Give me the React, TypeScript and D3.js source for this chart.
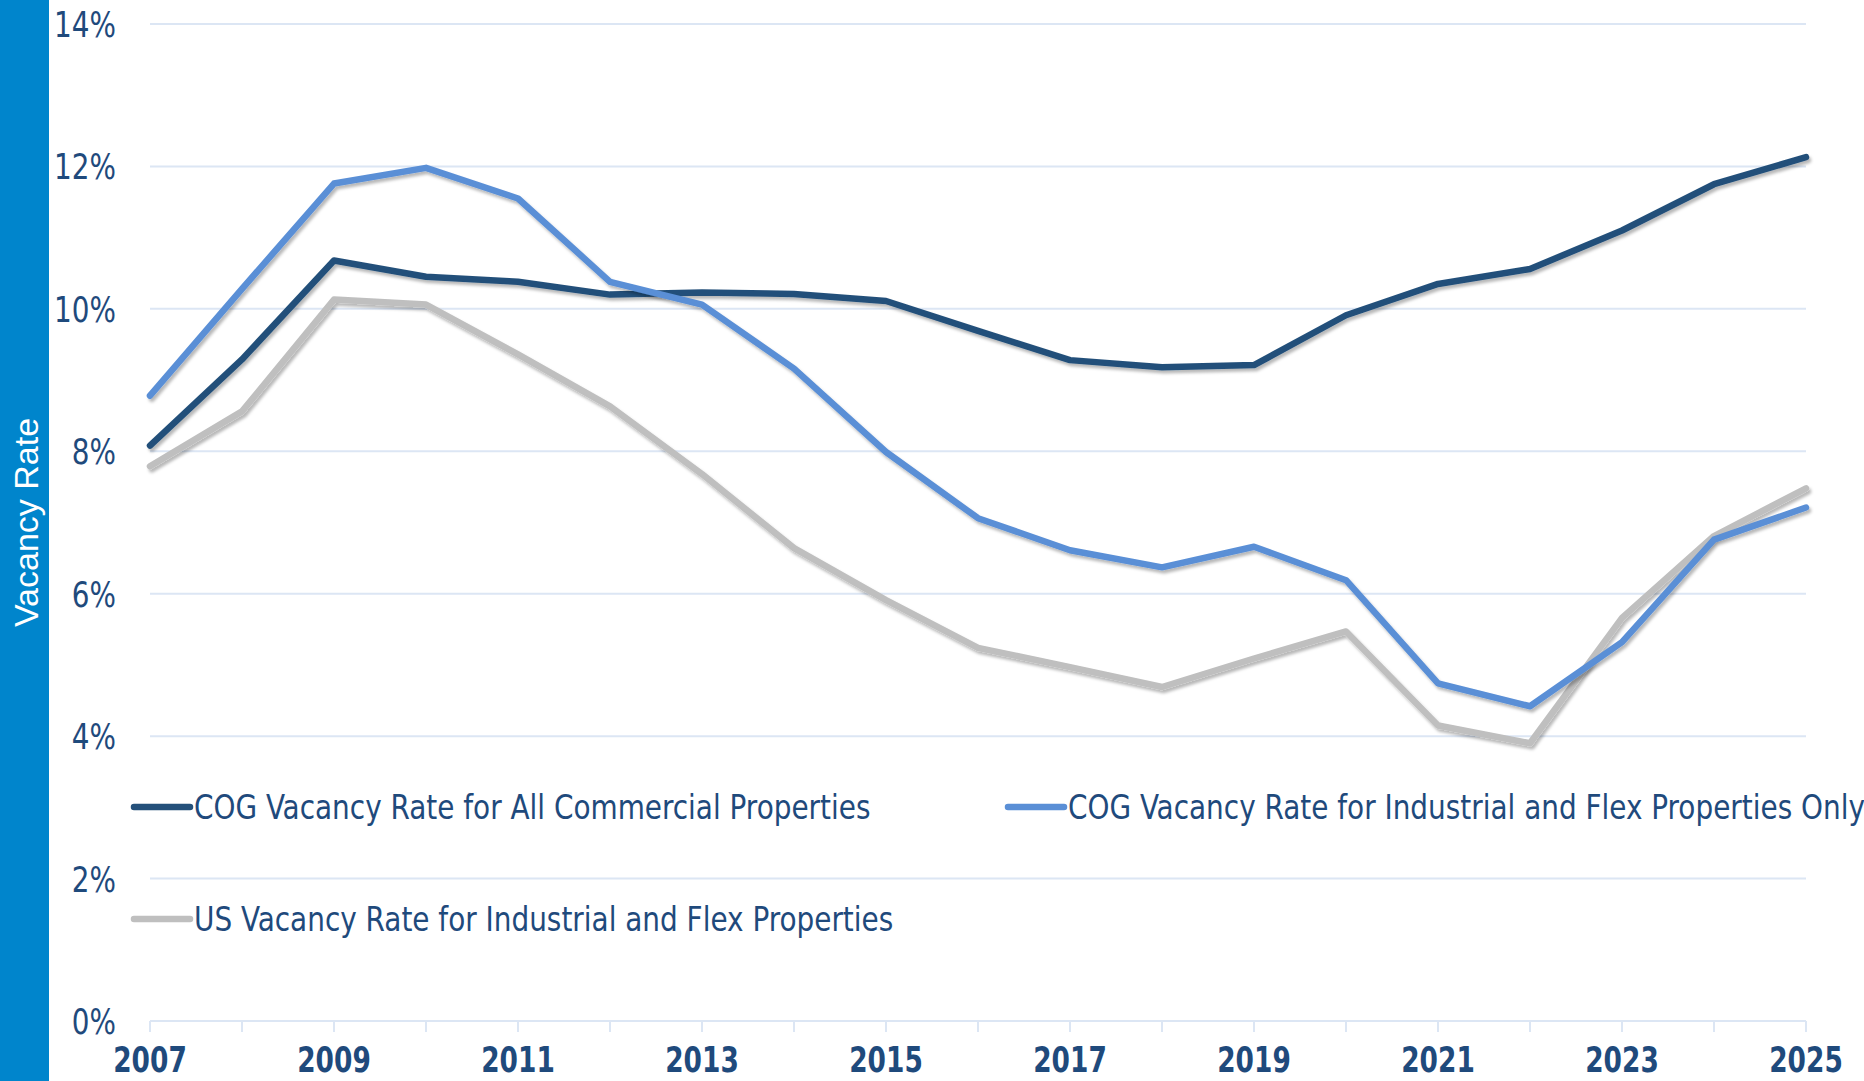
import React from 'react';
import * as d3 from 'd3';

const years = [2007, 2008, 2009, 2010, 2011, 2012, 2013, 2014, 2015, 2016, 2017, 2018, 2019, 2020, 2021, 2022, 2023, 2024, 2025];
const yearLabels = [2007, 2009, 2011, 2013, 2015, 2017, 2019, 2021, 2023, 2025];
const yTicks = [0, 2, 4, 6, 8, 10, 12, 14];

const cogAll = [8.08, 9.29, 10.68, 10.45, 10.38, 10.2, 10.23, 10.21, 10.11, 9.69, 9.28, 9.18, 9.21, 9.91, 10.35, 10.56, 11.1, 11.75, 12.13];
const cogIndustrial = [8.78, 10.28, 11.76, 11.98, 11.55, 10.38, 10.06, 9.16, 7.99, 7.06, 6.61, 6.37, 6.66, 6.19, 4.74, 4.42, 5.32, 6.76, 7.21];
const usIndustrial = [7.79, 8.56, 10.13, 10.06, 9.36, 8.63, 7.68, 6.64, 5.91, 5.24, 4.97, 4.69, 5.09, 5.47, 4.15, 3.9, 5.66, 6.81, 7.48];

const seriesNames = [
  'COG Vacancy Rate for All Commercial Properties',
  'COG Vacancy Rate for Industrial and Flex Properties Only',
  'US Vacancy Rate for Industrial and Flex Properties',
];
const seriesColors = ['#24507A', '#5A8FD6', '#BFBFBF'];

const W = 1864, H = 1081;
const textColor = '#1F4A7C';
const narrow = '"DejaVu Sans Condensed", "Liberation Sans", sans-serif';

export default function App() {
  const x = d3.scaleLinear().domain([2007, 2025]).range([150, 1806]);
  const y = d3.scaleLinear().domain([0, 14]).range([1021, 24]);

  const line = d3.line<number>()
    .x((_, i) => x(years[i]))
    .y(d => y(d));

  // gray under, then dark, blue on top
  const allSeries = [cogAll, cogIndustrial, usIndustrial];
  const order = [2, 0, 1];

  const legend = [
    { lx: 134, ly: 807 },
    { lx: 1008, ly: 807 },
    { lx: 134, ly: 919 },
  ];

  return (
    <svg width={W} height={H} style={{ position: 'absolute', left: 0, top: 0, background: '#fff' }}>
      <defs>
        <filter id="shadow" x="-5%" y="-5%" width="110%" height="120%">
          <feDropShadow dx="2" dy="3" stdDeviation="1.6" floodColor="#000" floodOpacity="0.28" />
        </filter>
      </defs>
      <rect x={0} y={0} width={49} height={H} fill="#0085CC" />
      <text
        transform={`translate(26,${(y(0) + y(14)) / 2}) rotate(-90)`}
        textAnchor="middle"
        dominantBaseline="central"
        fill="#fff"
        fontFamily='"Liberation Sans", Arial, sans-serif'
        fontSize={34}
      >
        Vacancy Rate
      </text>

      {yTicks.map(t => (
        <g key={t}>
          <line x1={150} x2={1806} y1={y(t)} y2={y(t)} stroke="#DCE6F4" strokeWidth={2} />
          <text transform={`translate(116,${y(t) + 13}) scale(0.86,1)`} textAnchor="end" fill={textColor} fontFamily={narrow} fontWeight={500} fontSize={36}>
            {t}%
          </text>
        </g>
      ))}

      {years.map(yr => (
        <line key={yr} x1={x(yr)} x2={x(yr)} y1={y(0)} y2={y(0) + 11} stroke="#DCE6F4" strokeWidth={2} />
      ))}
      {yearLabels.map(yr => (
        <text key={yr} transform={`translate(${x(yr)},1072) scale(0.84,1)`} textAnchor="middle" fill={textColor} fontFamily={narrow} fontWeight="bold" fontSize={35}>
          {yr}
        </text>
      ))}

      {order.map(i => (
        <path
          key={i}
          d={line(allSeries[i]) || ''}
          fill="none"
          stroke={seriesColors[i]}
          strokeWidth={6.5}
          strokeLinejoin="round"
          strokeLinecap="round"
          filter="url(#shadow)"
        />
      ))}

      {seriesNames.map((name, i) => (
        <g key={name}>
          <line x1={legend[i].lx} x2={legend[i].lx + 56} y1={legend[i].ly} y2={legend[i].ly} stroke={seriesColors[i]} strokeWidth={6.5} strokeLinecap="round" />
          <text transform={`translate(${legend[i].lx + 60},${legend[i].ly + 12}) scale(0.94,1)`} fill={textColor} fontFamily={narrow} fontSize={33}>
            {name}
          </text>
        </g>
      ))}
    </svg>
  );
}
